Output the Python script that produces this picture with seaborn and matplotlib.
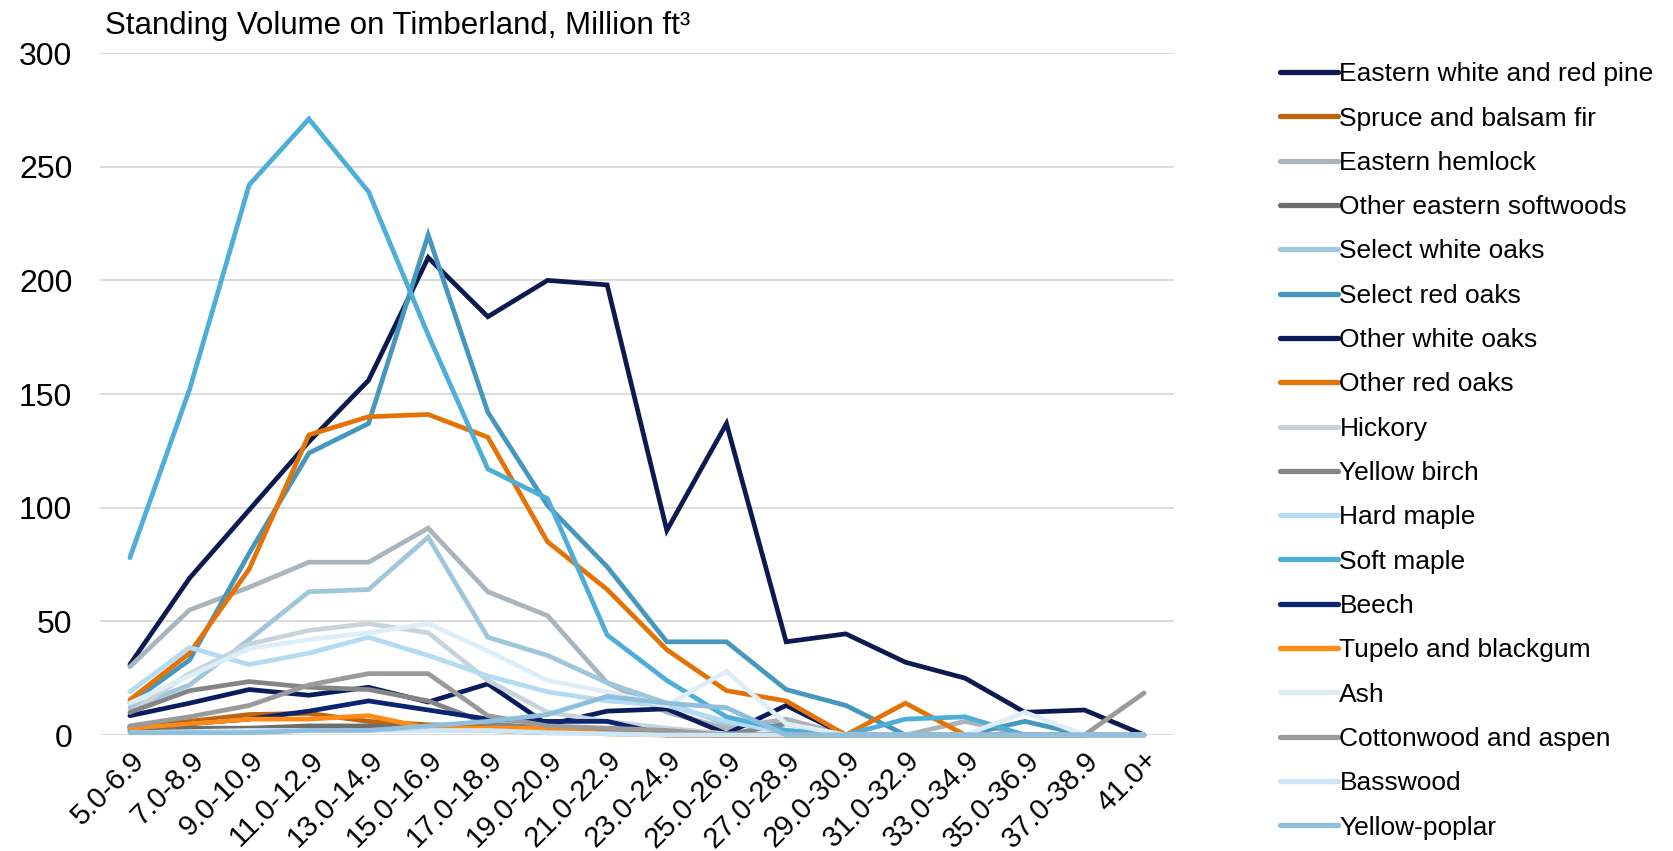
import numpy as np
import pandas as pd
import seaborn as sns
import matplotlib
matplotlib.use("Agg")
import matplotlib.pyplot as plt

categories = ["5.0-6.9", "7.0-8.9", "9.0-10.9", "11.0-12.9", "13.0-14.9", "15.0-16.9",
              "17.0-18.9", "19.0-20.9", "21.0-22.9", "23.0-24.9", "25.0-26.9", "27.0-28.9",
              "29.0-30.9", "31.0-32.9", "33.0-34.9", "35.0-36.9", "37.0-38.9", "41.0+"]

pine = [31, 69, 99, 129, 156, 210, 184, 200, 198, 90, 137, 41, 44.5, 32, 25, 10, 11, 0]
spruce = [3, 6, 9, 9.5, 6, 4.5, 4, 3, 1, 0, 0, 0, 0, 0, 0, 0, 0, 0]
hemlock = [30, 55, 65, 76, 76, 91, 63, 52.5, 23, 10, 3, 7, 0, 0, 6, 0, 0, 0]
other_soft = [2, 3, 3, 4, 4, 3, 2, 1, 1, 0.5, 0, 0, 0, 0, 0, 0, 0, 0]
select_white = [12, 22, 42, 63, 64, 87, 43, 35, 23, 14, 5, 2, 0, 0, 0, 0, 0, 0]
select_red = [14, 33, 80, 124, 137, 220, 142, 101, 74, 41, 41, 20, 13, 0, 0, 6, 0, 0]
other_white = [8.5, 14, 20, 17.5, 21, 14.5, 22.5, 4.5, 10.5, 11.5, 0.5, 13, 0, 0, 0, 0, 0, 0]
other_red = [15.5, 36, 73, 132, 140, 141, 131, 85, 64, 37.5, 19.5, 15, 0, 14, 0, 0, 0, 0]
hickory = [10, 27, 40, 46, 49, 45, 24, 10, 6, 3, 0.5, 0, 0, 0, 0, 0, 0, 0]
yellow_birch = [10, 19.5, 23.5, 21, 20, 15, 5, 3, 2, 1, 0, 5, 0, 0, 0, 0, 0, 0]
hard_maple = [19, 38.5, 31, 36, 43, 35, 26, 19, 15, 13, 6, 1, 0, 0, 0, 0, 0, 0]
soft_maple = [78, 152, 242, 271, 239, 176, 117, 104, 44, 24, 8, 2, 0, 7, 8, 0, 0, 0]
beech = [3.5, 5, 7, 10.5, 15, 11, 7, 6, 6, 0, 0, 0, 0, 0, 0, 0, 0, 0]
tupelo = [3, 5, 7, 7, 8.5, 3, 3, 3, 0.5, 0, 0, 0, 0, 0, 0, 0, 0, 0]
ash = [14, 26, 38, 42, 45, 49, 37, 24, 19, 13, 28, 5, 0, 0, 0, 10, 0, 0]
cottonwood = [4, 8, 13, 22, 27, 27, 8.5, 4, 3, 2, 0, 0, 0, 0, 0, 0, 0, 18.5]
basswood = [1, 1.5, 2, 2, 2, 2, 2, 1, 0.5, 0, 0, 0, 0, 0, 0, 0, 0, 0]
yellow_poplar = [1, 1, 1, 2, 2, 4, 6, 9, 17, 14, 12, 0, 0, 0, 0, 0, 0, 0]

series_names = ["Eastern white and red pine", "Spruce and balsam fir", "Eastern hemlock",
                "Other eastern softwoods", "Select white oaks", "Select red oaks",
                "Other white oaks", "Other red oaks", "Hickory", "Yellow birch",
                "Hard maple", "Soft maple", "Beech", "Tupelo and blackgum", "Ash",
                "Cottonwood and aspen", "Basswood", "Yellow-poplar"]
series_values = [pine, spruce, hemlock, other_soft, select_white, select_red, other_white,
                 other_red, hickory, yellow_birch, hard_maple, soft_maple, beech, tupelo,
                 ash, cottonwood, basswood, yellow_poplar]
colors = ["#0c1a4f", "#c0630f", "#aab4bc", "#6e6e6e", "#9fc7dc", "#4597be",
          "#0b1c5c", "#e37306", "#c8d4dc", "#858585", "#b3dcf2", "#4eaed8",
          "#0a2470", "#ff8a14", "#deeef8", "#9a9a9a", "#cde6f6", "#8fbfdc"]

rows = []
for name, vals in zip(series_names, series_values):
    for i, v in enumerate(vals):
        rows.append({"x": i, "value": v, "series": name})
df = pd.DataFrame(rows)

sns.set_theme(style="white")
plt.rcParams["font.family"] = ["Liberation Sans", "DejaVu Sans"]
plt.rcParams["text.color"] = "black"
plt.rcParams["xtick.color"] = "black"
plt.rcParams["ytick.color"] = "black"

fig = plt.figure(figsize=(16.73, 8.51), dpi=100)
ax = fig.add_axes([0.0598, 0.1363, 0.6419, 0.8014])

sns.lineplot(data=df, x="x", y="value", hue="series", hue_order=series_names,
             palette=dict(zip(series_names, colors)), linewidth=3.4, sort=False,
             ax=ax, legend=True)
for ln in ax.get_lines():
    ln.set_clip_on(False)
    ln.set_solid_capstyle("round")
    ln.set_solid_joinstyle("miter")

ax.set_xlim(-0.5, 17.5)
ax.set_ylim(0, 300)
ax.set_yticks([0, 50, 100, 150, 200, 250, 300])
ax.set_xticks(range(len(categories)))
ax.set_xticklabels(categories, rotation=45, ha="right", rotation_mode="anchor", fontsize=21)
ax.tick_params(axis="y", labelsize=23, pad=20, length=0, labelcolor="black")
ax.tick_params(axis="x", pad=8, length=0, labelcolor="black")
ax.set_xlabel("")
ax.set_ylabel("")
ax.grid(axis="y", color="#d9d9d9", linewidth=1.3)
ax.set_axisbelow(True)
for s in ["top", "right", "left", "bottom"]:
    ax.spines[s].set_visible(False)

fig.text(105 / 1673, 1 - 34 / 851, "Standing Volume on Timberland, Million ft³",
         fontsize=22.5, ha="left", va="baseline", color="black")

handles, labels = ax.get_legend_handles_labels()
leg = ax.legend(handles, labels, loc="upper left", bbox_to_anchor=(1.089, 1.002),
                frameon=False, fontsize=19, handlelength=2.2, handletextpad=0.05,
                labelspacing=0.77, borderaxespad=0, labelcolor="black")
for h in leg.get_lines():
    h.set_linewidth(3.8)

fig.savefig("out.png", dpi=100)
